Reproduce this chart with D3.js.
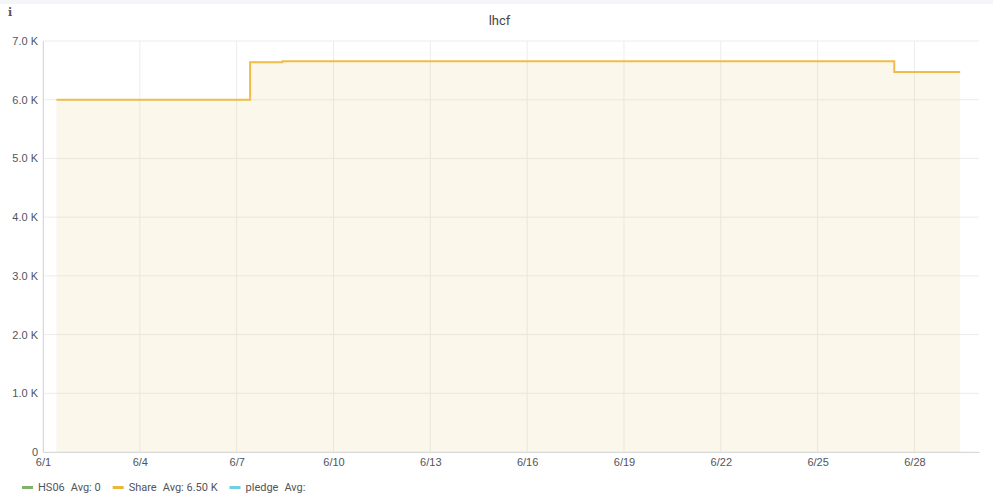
<!DOCTYPE html>
<html>
<head>
<meta charset="utf-8">
<script src="https://cdn.jsdelivr.net/npm/d3@7"></script>
<style>
  body { margin: 0; background: #fff; font-family: Roboto, "Helvetica Neue", Arial, sans-serif; }
  .tick text { fill: #52545c; font-size: 11px; }
</style>
</head>
<body>
<div id="chart"></div>
<script>
// step points of the Share series (value holds until next time)
const shareTimes = ["2019-06-01T10:00", "2019-06-07T10:00", "2019-06-08T10:00", "2019-06-27T09:00", "2019-06-29T10:00"]
const shareValues = [6000, 6640, 6655, 6470, 6470]
const yTicks = [0, 1000, 2000, 3000, 4000, 5000, 6000, 7000]
const xTickDays = ["2019-06-01", "2019-06-04", "2019-06-07", "2019-06-10", "2019-06-13", "2019-06-16", "2019-06-19", "2019-06-22", "2019-06-25", "2019-06-28"]
const legendNames = ["HS06", "Share", "pledge"]
const legendAvgs = ["Avg: 0", "Avg: 6.50 K", "Avg:"]
const legendColors = ["#7eb26d", "#eab839", "#6ed0e0"]

const W = 993, H = 499
const margin = { top: 41, right: 14, bottom: 47, left: 43 }

const parse = d3.timeParse("%Y-%m-%dT%H:%M")
const parseDay = d3.timeParse("%Y-%m-%d")
const data = shareTimes.map((t, i) => ({ t: parse(t), v: shareValues[i] }))

const svg = d3.select("#chart").append("svg")
    .attr("width", W)
    .attr("height", H)

// top panel strip
svg.append("rect").attr("x", 0).attr("y", 0).attr("width", W).attr("height", 4).attr("fill", "#f4f5f8")

svg.append("text").attr("x", 8).attr("y", 16)
    .attr("font-size", 11).attr("font-weight", "bold").attr("fill", "#52545c")
    .attr("font-family", "DejaVu Serif")
    .text("i")

svg.append("text").attr("x", W / 2 + 3).attr("y", 25)
    .attr("text-anchor", "middle").attr("font-size", 13).attr("fill", "#464646")
    .text("lhcf")

const x = d3.scaleTime()
    .domain([parseDay("2019-06-01"), parseDay("2019-06-30")])
    .range([margin.left, W - margin.right])

const y = d3.scaleLinear()
    .domain([0, 7000])
    .range([H - margin.bottom, margin.top])

// grid
const grid = svg.append("g")
grid.selectAll(".hg").data(yTicks).enter().append("line")
    .attr("x1", margin.left).attr("x2", W - margin.right)
    .attr("y1", d => y(d)).attr("y2", d => y(d))
    .attr("stroke", "#ececec")
grid.selectAll(".vg").data(xTickDays.map(parseDay)).enter().append("line")
    .attr("x1", d => x(d)).attr("x2", d => x(d))
    .attr("y1", margin.top).attr("y2", H - margin.bottom)
    .attr("stroke", "#ececec")

// area + line
const area = d3.area()
    .x(d => x(d.t)).y0(y(0)).y1(d => y(d.v))
    .curve(d3.curveStepAfter)
const line = d3.line()
    .x(d => x(d.t)).y(d => y(d.v))
    .curve(d3.curveStepAfter)

svg.append("path").datum(data).attr("d", area)
    .attr("fill", "#e6c878").attr("fill-opacity", 0.15)
svg.append("path").datum(data).attr("d", line)
    .attr("fill", "none").attr("stroke", "#eebd4a").attr("stroke-width", 2)

// axes
const yAxis = svg.append("g")
    .attr("transform", "translate(" + margin.left + ",0)")
    .call(d3.axisLeft(y).tickValues(yTicks).tickSize(0).tickPadding(5)
        .tickFormat(d => d === 0 ? "0" : d3.format(".1f")(d / 1000) + " K"))
yAxis.select(".domain").attr("stroke", "#d8d9da")

const xAxis = svg.append("g")
    .attr("transform", "translate(0," + (H - margin.bottom) + ")")
    .call(d3.axisBottom(x).tickValues(xTickDays.map(parseDay)).tickSize(0).tickPadding(6)
        .tickFormat(d3.timeFormat("%-m/%-d")))
xAxis.select(".domain").attr("stroke", "#d8d9da")

// legend
const legend = svg.append("g").attr("font-size", 11).attr("fill", "#52545c")
let lx = 22
legendNames.forEach((name, i) => {
    legend.append("rect").attr("x", lx).attr("y", 486).attr("width", 11).attr("height", 3)
        .attr("fill", legendColors[i])
    const t1 = legend.append("text").attr("x", lx + 16).attr("y", 491).text(name)
    const w1 = t1.node().getComputedTextLength()
    const t2 = legend.append("text").attr("x", lx + 16 + w1 + 6).attr("y", 491).text(legendAvgs[i])
    const w2 = t2.node().getComputedTextLength()
    lx = lx + 16 + w1 + 6 + w2 + 12
})
</script>
</body>
</html>
